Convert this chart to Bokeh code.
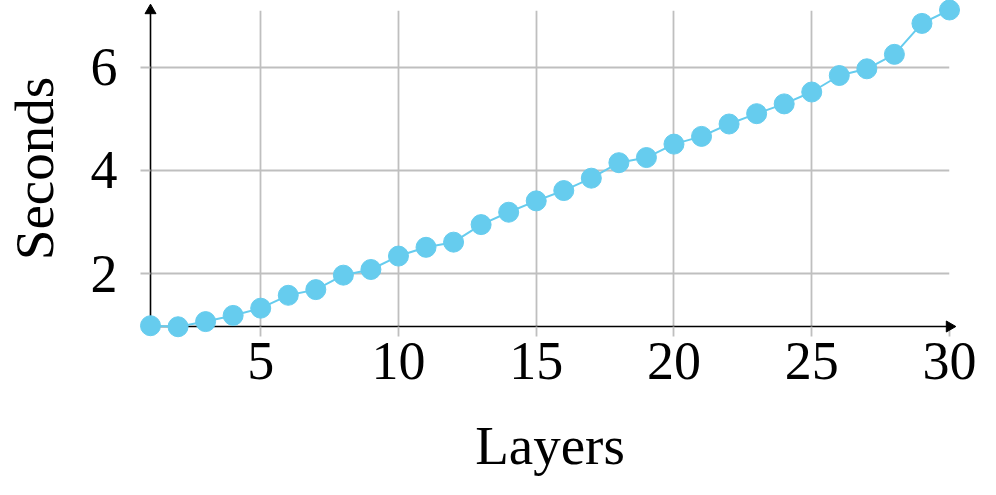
import math
from bokeh.plotting import figure
from bokeh.models import Range1d, FixedTicker
from bokeh.embed import file_html
from bokeh.resources import INLINE

# ---- data ----
layers = list(range(1, 31))
seconds = [0.99, 0.97, 1.07, 1.19, 1.33, 1.58, 1.69, 1.97, 2.08, 2.34,
           2.51, 2.61, 2.95, 3.19, 3.41, 3.61, 3.85, 4.15, 4.25, 4.51,
           4.66, 4.90, 5.10, 5.29, 5.52, 5.84, 5.97, 6.25, 6.85, 7.11]
x_ticks = [5, 10, 15, 20, 25, 30]
y_ticks = [2, 4, 6]
x_label = "Layers"
y_label = "Seconds"

X_MIN, X_MAX = 1, 30
Y_MIN, Y_MAX = 0.975, 7.1

FONT = "Liberation Serif"
COLOR = "#66CCEE"
GRID = "#bfbfbf"

p = figure(width=996, height=495, output_backend="svg", toolbar_location=None,
           x_range=Range1d(X_MIN, X_MAX), y_range=Range1d(Y_MIN, Y_MAX),
           min_border_left=149, min_border_right=47, min_border_top=10,
           min_border_bottom=169)
p.outline_line_color = None
p.background_fill_color = "white"
p.border_fill_color = "white"

# grid
p.xgrid.ticker = FixedTicker(ticks=x_ticks)
p.ygrid.ticker = FixedTicker(ticks=y_ticks)
for g in (p.xgrid, p.ygrid):
    g.grid_line_color = GRID
    g.grid_line_width = 1.8

# axes
p.xaxis.ticker = FixedTicker(ticks=x_ticks)
p.yaxis.ticker = FixedTicker(ticks=y_ticks)
for ax in (p.xaxis, p.yaxis):
    ax.axis_line_color = "black"
    ax.axis_line_width = 1.6
    ax.major_tick_in = 0
    ax.major_tick_out = 10
    ax.major_tick_line_color = GRID
    ax.major_tick_line_width = 1.8
    ax.minor_tick_line_color = None
    ax.major_label_text_font = FONT
    ax.major_label_text_font_size = "54px"
    ax.major_label_text_color = "black"
    ax.axis_label_text_font = FONT
    ax.axis_label_text_font_size = "55px"
    ax.axis_label_text_font_style = "normal"
    ax.axis_label_text_color = "black"
p.xaxis.axis_label = x_label
p.yaxis.axis_label = y_label
p.xaxis.major_label_standoff = 6
p.yaxis.major_label_standoff = 23
p.xaxis.axis_label_standoff = 33
p.yaxis.axis_label_standoff = 23

# axis arrow heads (unclipped overlay markers at the axis ends)
p.scatter([X_MAX], [Y_MIN], marker="triangle", size=11, angle=-math.pi / 2,
          fill_color="black", line_color="black", line_width=1, level="overlay")
p.scatter([X_MIN], [Y_MAX], marker="triangle", size=11,
          fill_color="black", line_color="black", line_width=1, level="overlay")

# data
p.line(layers, seconds, line_color=COLOR, line_width=2, level="overlay")
p.scatter(layers, seconds, size=20, fill_color=COLOR, line_color=COLOR,
          level="overlay")

open("out.html", "w").write(file_html(p, INLINE))
